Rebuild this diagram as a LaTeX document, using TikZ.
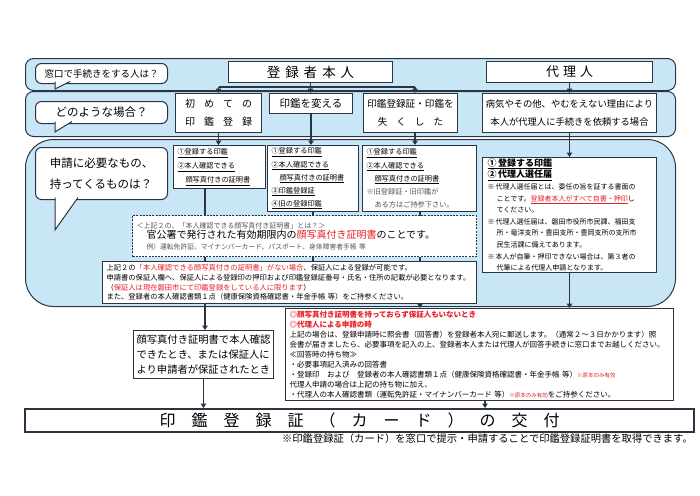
\documentclass[tikz,border=0pt]{standalone}
\usepackage{fontspec}
\setmainfont{Noto Sans CJK JP}
\usetikzlibrary{arrows.meta}
\pgfdeclarelayer{back}
\pgfdeclarelayer{mid}
\pgfsetlayers{back,mid,main}
\definecolor{bandc}{RGB}{200,230,246}
\definecolor{edge}{RGB}{42,52,66}
\definecolor{jred}{RGB}{232,32,40}
\definecolor{gtext}{RGB}{85,85,85}
\newcommand{\fs}[2]{\fontsize{#1}{#2}\selectfont}
\newcommand{\jg}[1]{\hspace{#1pt}}
\begin{document}
\begin{tikzpicture}[x=1pt,y=-1pt,
  bandbox/.style={draw=edge, line width=1pt, fill=bandc, rounded corners=8pt, inner sep=0pt, anchor=north west},
  bx/.style={draw=edge, line width=1pt, fill=white, inner sep=0pt, anchor=north west},
  tbx/.style={bx, align=left, inner xsep=4pt},
  bub/.style={draw=edge, line width=1pt, fill=white, rounded corners=6pt, inner sep=0pt, anchor=north west},
  conn/.style={draw=edge, line width=1.4pt},
  arr/.style={-{Triangle[length=4.5pt,width=5.5pt]}},
  tail/.style={fill=white, draw=edge, line width=1pt, line join=miter}
]
\useasboundingbox (0,0) rectangle (700,495);
\begin{pgfonlayer}{back}
\node[bandbox, minimum width=650pt, minimum height=32pt] (band1) at (25,58) {};
\node[bandbox, minimum width=650pt, minimum height=45pt] (band2) at (25,91) {};
\node[bandbox, rounded corners=28pt, minimum width=650pt, minimum height=167pt] (band3) at (25,139) {};
\end{pgfonlayer}

% speech bubbles
\node[bub, minimum width=132pt, minimum height=20pt, font=\fs{9.5}{10}] (q1) at (35,63) {窓口で手続きをする人は？};
\filldraw[tail] (55,81.5) -- (55,89) -- (70,81.5);
\node[bub, minimum width=132pt, minimum height=22pt, font=\fs{11.5}{12}] (q2) at (35,101) {どのような場合？};
\filldraw[tail] (55,121.5) -- (55,132) -- (72,121.5);
\node[bub, minimum width=132pt, minimum height=52pt, font=\fs{11.5}{21}, align=left] (q3) at (35,147) {申請に必要なもの、\\持ってくるものは？};
\filldraw[tail] (55,197.5) -- (55,230) -- (78,197.5);

% row 1
\node[bx, minimum width=164pt, minimum height=21pt, font=\fs{13.5}{14}] (self) at (228,61) {登\jg5録\jg5者\jg5本\jg5人};
\node[bx, minimum width=166pt, minimum height=21pt, font=\fs{13}{14}] (agent) at (486,61) {代\jg4理\jg4人};

% row 2
\node[bx, minimum width=86pt, minimum height=39pt, font=\fs{10}{18}, align=center] (c1) at (175,93) {初\jg9め\jg9て\jg9の\\印\jg9鑑\jg9登\jg9録};
\node[bx, minimum width=83pt, minimum height=20pt, font=\fs{10.5}{11}] (c2) at (269,93) {印鑑を変える};
\node[bx, minimum width=94pt, minimum height=39pt, font=\fs{9.6}{18}, align=center] (c3) at (363,93) {印鑑登録証・印鑑を\\失\jg9く\jg9し\jg9た};
\node[bx, minimum width=174pt, minimum height=39pt, font=\fs{9.3}{18}, align=center] (c4) at (482,93) {病気やその他、やむをえない理由により\\本人が代理人に手続きを依頼する場合};

% row 3
\node[tbx, text width=84pt, minimum height=43pt, font=\fs{7.2}{14}] (bA) at (173,145) {\underline{①登録する印鑑}\\\underline{②本人確認できる}\\\hspace*{8pt}\underline{顔写真付きの証明書}};
\node[tbx, text width=83pt, minimum height=66pt, font=\fs{7.2}{13.2}] (bB) at (267,145) {\underline{①登録する印鑑}\\\underline{②本人確認できる}\\\hspace*{8pt}\underline{顔写真付きの証明書}\\\underline{③印鑑登録証}\\\underline{④旧の登録印鑑}};
\node[tbx, text width=106pt, minimum height=66pt, font=\fs{7.2}{13.2}] (bC) at (362,145) {\underline{①登録する印鑑}\\\underline{②本人確認できる}\\\hspace*{8pt}\underline{顔写真付きの証明書}\\{\color{gtext}※旧登録証・旧印鑑が}\\{\color{gtext}\hspace*{8pt}ある方はご持参下さい。}};
\node[tbx, text width=164pt, inner xsep=5pt, minimum height=115pt, font=\fs{7}{11.6}] (bD) at (482,157) {%
{\fs{9}{11.6}\bfseries\underline{①\,登録する印鑑}}\\
{\fs{9}{11.6}\bfseries\underline{②\,代理人選任届}}\\
※\,代理人選任届とは、委任の旨を証する書面の\\
\hspace*{9pt}ことです。{\color{jred}\underline{登録者本人がすべて自書・押印}}し\\
\hspace*{9pt}てください。\\
※\,代理人選任届は、磐田市役所市民課、福田支\\
\hspace*{9pt}所・竜洋支所・豊田支所・豊岡支所の支所市\\
\hspace*{9pt}民生活課に備えてあります。\\
※\,本人が自筆・押印できない場合は、第３者の\\
\hspace*{9pt}代筆による代理人申請となります。};

\node[bx, dashed, dash pattern=on 2pt off 1.2pt, text width=336pt, inner xsep=4pt, minimum height=41pt, align=left, font=\fs{7}{10.5}] (dsh) at (132,215) {%
{\color{gtext}＜上記２の、「本人確認できる顔写真付き証明書」とは？＞}\\
{\fs{10}{12}\hspace*{10pt}官公署で発行された有効期限内の{\color{jred}顔写真付き証明書}のことです。}\\
{\color{gtext}\fs{6.8}{10}\hspace*{10pt}例）運転免許証、マイナンバーカード、パスポート、身体障害者手帳 等}};

\node[bx, text width=366pt, inner xsep=4pt, minimum height=42pt, align=left, font=\fs{7.3}{9.6}] (grt) at (102,261) {%
上記２の{\color{jred}「本人確認できる顔写真付きの証明書」がない場合}、保証人による登録が可能です。\\
申請書の保証人欄へ、保証人による登録印の押印および印鑑登録証番号・氏名・住所の記載が必要となります。\\
（{\color{jred}保証人は現在磐田市にて印鑑登録をしている人に限ります}）\\
また、登録者の本人確認書類１点（健康保険資格確認書・年金手帳 等）をご持参ください。};

% lower part
\node[bx, minimum width=140pt, minimum height=48pt, align=left, font=\fs{10.3}{15}] (face) at (133,330) {顔写真付き証明書で本人確認\\できたとき、または保証人に\\より申請者が保証されたとき};

\node[bx, text width=380pt, inner xsep=4pt, minimum height=92pt, align=left, font=\fs{7.5}{10}] (nopf) at (285,308) {%
{\color{jred}\bfseries ◎顔写真付き証明書を持っておらず保証人もいないとき}\\
{\color{jred}\bfseries ◎代理人による申請の時}\\
上記の場合は、登録申請時に照会書（回答書）を登録者本人宛に郵送します。（通常２～３日かかります）照\\
会書が届きましたら、必要事項を記入の上、登録者本人または代理人が回答手続きに窓口までお越しください。\\
≪回答時の持ち物≫\\
・必要事項記入済みの回答書\\
・登録印　および　登録者の本人確認書類１点（健康保険資格確認書・年金手帳 等）{\color{jred}\fs{5.5}{10}※原本のみ有効}\\
代理人申請の場合は上記の持ち物に加え、\\
・代理人の本人確認書類（運転免許証・マイナンバーカード 等）{\color{jred}\fs{5.5}{10}※原本のみ有効}をご持参ください。};

\node[bx, line width=2pt, minimum width=669pt, minimum height=23pt, font=\fs{16}{16}] (issue) at (24,408) {印\jg{16}鑑\jg{16}登\jg{16}録\jg{16}証\jg{16}（\jg{16}カ\jg{16}ー\jg{16}ド\jg{16}）\jg{16}の\jg{16}交\jg{16}付};
\node[anchor=north east, inner sep=0pt, font=\fs{10.3}{11}] (note) at (693,433) {※印鑑登録証（カード）を窓口で提示・申請することで印鑑登録証明書を取得できます。};

% connectors
\coordinate (ybar) at (0,87);
\coordinate (x3) at (415,0);
\coordinate (xa) at (205,0);
\coordinate (xb) at (313,0);
\coordinate (xc) at (420,0);
\coordinate (xd) at (485,0);
\begin{pgfonlayer}{mid}
\draw[conn] (self.south) -- (self.south |- ybar);
\draw[conn] (c1.north |- ybar) -- (x3 |- ybar);
\draw[conn,arr] (c1.north |- ybar) -- (c1.north);
\draw[conn,arr] (self.south |- ybar) -- (self.south |- c2.north);
\draw[conn,arr] (x3 |- ybar) -- (x3 |- c3.north);
\draw[conn,arr] (agent.south) -- (c4.north);
\draw[conn,arr] (c1.south) -- (c1.south |- bA.north);
\draw[conn,arr] (c2.south) -- (c2.south |- bB.north);
\draw[conn,arr] (x3 |- c3.south) -- (x3 |- bC.north);
\draw[conn,arr] (c4.south) -- (c4.south |- bD.north);
\draw[conn,arr] (xa |- bA.south) -- (xa |- face.north);
\draw[conn] (xb |- bB.south) -- (xb |- grt.south);
\draw[conn,arr] (xc |- bC.south) -- (xc |- nopf.north);
\draw[conn,arr] (bD.south) -- (bD.south |- nopf.north);
\draw[conn,arr] (face.south) -- (face.south |- issue.north);
\draw[conn,arr] (xd |- nopf.south) -- (xd |- issue.north);
\end{pgfonlayer}
\end{tikzpicture}
\end{document}
